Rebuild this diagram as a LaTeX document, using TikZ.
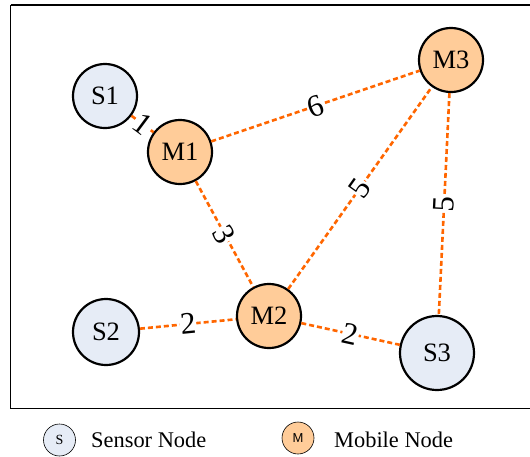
\documentclass[tikz,border=0pt]{standalone}
\usepackage{fontspec}
\setmainfont{Liberation Serif}
\newfontfamily\legsans{Liberation Sans}
\definecolor{sensorfill}{RGB}{230,236,246}
\definecolor{mobilefill}{RGB}{255,204,153}
\definecolor{linkorange}{RGB}{255,102,0}
\begin{document}
\begin{tikzpicture}[x=1pt,y=-1pt,
  sensor/.style={circle,draw=black,line width=2.2pt,fill=sensorfill,minimum size=#1,inner sep=0pt,font=\fontsize{26.5}{26.5}\selectfont},
  sensor/.default=64pt,
  mobile/.style={circle,draw=black,line width=2.2pt,fill=mobilefill,minimum size=64pt,inner sep=0pt,font=\fontsize{26.5}{26.5}\selectfont},
  link/.style={draw=linkorange,line width=2.6pt,dash pattern=on 5pt off 3pt},
  weight/.style={fill=white,inner sep=0.5pt,sloped,font=\fontsize{31}{31}\selectfont},
  legsym/.style={circle,draw=black,line width=0.6pt,minimum size=32pt,inner sep=0pt},
  legtext/.style={anchor=west,inner sep=0pt,font=\fontsize{22.4}{22.4}\selectfont}]
\useasboundingbox (0,0) rectangle (530,456);
% outer frame
\draw[line width=1.2pt] (10.5,5) -- (10.5,408.5) -- (535,408.5);
\draw[line width=1.2pt] (10.5,5) -- (535,5);
% network nodes
\node[sensor] (s1) at (105,96) {S1};
\node[mobile] (m1) at (180,152) {M1};
\node[mobile] (m3) at (451,60) {M3};
\node[mobile] (m2) at (269,316) {M2};
\node[sensor=66pt] (s2) at (106,332) {S2};
\node[sensor=74pt] (s3) at (437,353) {S3};
% weighted links
\draw[link] (s1) -- node[weight] {1} (m1);
\draw[link] (m1) -- node[weight] {6} (m3);
\draw[link] (m1) -- node[weight] {3} (m2);
\draw[link] (m2) -- node[weight] {5} (m3);
\draw[link] (m3) -- node[weight] {5} (s3);
\draw[link] (s2) -- node[weight] {2} (m2);
\draw[link] (m2) -- node[weight] {2} (s3);
% legend
\node[legsym,fill=sensorfill,font=\fontsize{14}{14}\selectfont] (legs) at (59.5,440) {S};
\node[legtext] (legst) at (91,440) {Sensor Node};
\node[legsym,fill=mobilefill,font=\legsans\fontsize{13}{13}\selectfont] (legm) at (298,438) {M};
\node[legtext] (legmt) at (334,440) {Mobile Node};
\end{tikzpicture}
\end{document}
